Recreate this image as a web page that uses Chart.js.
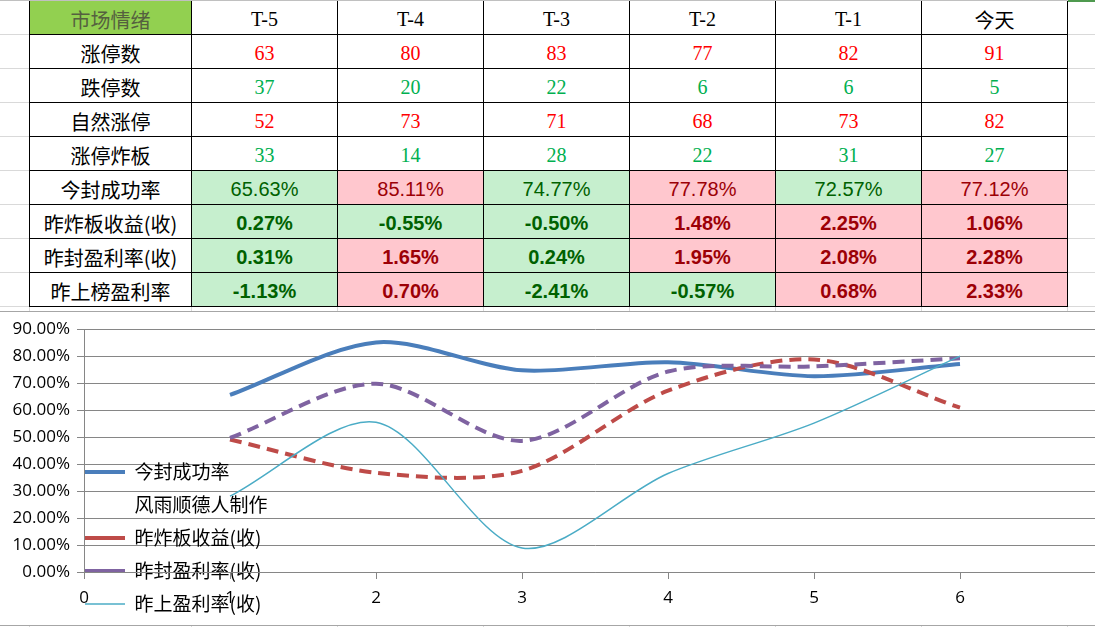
<!DOCTYPE html>
<html><head><meta charset="utf-8">
<script src="https://cdn.jsdelivr.net/npm/chart.js@4.4.0/dist/chart.umd.min.js"></script>
<style>
html,body{margin:0;padding:0;background:#fff;}
body{width:1095px;height:627px;overflow:hidden;position:relative;}
.hl{position:absolute;left:0;width:1095px;height:1px;background:#d9d9d9;}
.vl{position:absolute;top:0;height:627px;width:1px;background:#d9d9d9;}
#tbl{position:absolute;left:29px;top:1px;display:grid;grid-template-columns:161px repeat(6,145px);grid-template-rows:33px repeat(8,33px);gap:1px;padding:0 1px 1px 1px;background:#000;}
.cell{background:#fff;display:flex;align-items:center;justify-content:center;padding-top:3px;box-sizing:border-box;white-space:nowrap;font-size:20px;}
.cjk{font-family:"Noto Sans CJK SC",sans-serif;color:#000;}
.ser{font-family:"Liberation Serif",serif;color:#000;}
.pct{font-family:"Liberation Sans",Arial,sans-serif;}
.bold{font-weight:bold;}
.g{background:#C6EFCE;color:#006100;}
.r{background:#FFC7CE;color:#9C0006;}
#chartBox{position:absolute;left:0;top:311px;width:1095px;height:313px;border-top:1px solid #a6a6a6;border-bottom:1px solid #a6a6a6;overflow:hidden;background:#fff;}
#c{position:absolute;left:0;top:0;}
</style>
</head><body>
<div id="grid"></div>
<div id="tbl"></div>
<div style="position:absolute;left:0;top:0;width:1067px;height:1px;background:#c0c0c0"></div>
<div style="position:absolute;left:1068px;top:0;width:27px;height:2px;background:#4f9a4f"></div>
<div id="chartBox"><canvas id="c" width="1120" height="313"></canvas></div>
<script>
// ---------- table data ----------
const headerTitle = '市场情绪';
const dayLabels = ['T-5','T-4','T-3','T-2','T-1','今天'];
const rowLabels = ['涨停数','跌停数','自然涨停','涨停炸板','今封成功率','昨炸板收益(收)','昨封盈利率(收)','昨上榜盈利率'];
const limitUp = [63,80,83,77,82,91];
const limitDown = [37,20,22,6,6,5];
const naturalLimitUp = [52,73,71,68,73,82];
const brokenLimit = [33,14,28,22,31,27];
const sealSuccessRate = [65.63,85.11,74.77,77.78,72.57,77.12];
const brokenReturn = [0.27,-0.55,-0.50,1.48,2.25,1.06];
const sealProfit = [0.31,1.65,0.24,1.95,2.08,2.28];
const listProfit = [-1.13,0.70,-2.41,-0.57,0.68,2.33];
const sealSuccessTone = ['g','r','g','r','g','r'];
const brokenReturnTone = ['g','g','g','r','r','r'];
const sealProfitTone = ['g','r','g','r','r','r'];
const listProfitTone = ['g','r','g','g','r','r'];

// ---------- chart data ----------
const xValues = [1,2,3,4,5,6];
const seriesNames = ['今封成功率','风雨顺德人制作','昨炸板收益(收)','昨封盈利率(收)','昨上盈利率(收)'];
const seriesSealSuccess = [65.63,85.11,74.77,77.78,72.57,77.12];
const seriesBlank = [];
const seriesBrokenReturn = [49.1,36.8,37.5,67.2,78.8,60.9];
const seriesSealProfit = [49.7,69.8,48.6,74.3,76.2,79.2];
const seriesListProfit = [28.1,55.5,8.9,36.5,55.2,80.0];
const yMin = 0, yMax = 90, yStep = 10;
const xMin = 0, xMax = 7, xStep = 1;

// ---------- sheet gridlines ----------
const grid = document.getElementById('grid');
[29,191,337,483,629,775,921,1067].forEach(x=>{const d=document.createElement('div');d.className='vl';d.style.left=x+'px';grid.appendChild(d);});
for(let y=34;y<=306;y+=34){const d=document.createElement('div');d.className='hl';d.style.top=y+'px';grid.appendChild(d);}

// ---------- table ----------
const tbl = document.getElementById('tbl');
function cell(text, cls, style){const d=document.createElement('div');d.className='cell '+cls;d.textContent=text;if(style)Object.assign(d.style,style);tbl.appendChild(d);}
cell(headerTitle,'cjk',{background:'#92D050',color:'#55603f'});
dayLabels.forEach(t=>cell(t, /[\u4e00-\u9fff]/.test(t)?'cjk':'ser'));
const countRows=[[limitUp,'#FF0000'],[limitDown,'#00B050'],[naturalLimitUp,'#FF0000'],[brokenLimit,'#00B050']];
countRows.forEach(([vals,col],i)=>{cell(rowLabels[i],'cjk');vals.forEach(v=>cell(String(v),'ser',{color:col}));});
const pctRows=[[sealSuccessRate,sealSuccessTone,false],[brokenReturn,brokenReturnTone,true],[sealProfit,sealProfitTone,true],[listProfit,listProfitTone,true]];
pctRows.forEach(([vals,tones,b],i)=>{cell(rowLabels[4+i],'cjk');vals.forEach((v,j)=>cell(v.toFixed(2)+'%','pct '+tones[j]+(b?' bold':'')));});

// ---------- chart ----------
const toPts = arr => arr.map((v,i)=>({x:xValues[i], y:v}));
const legendMover = {
  id:'legendMover',
  beforeDraw(chart){
    const lg = chart.legend; if(!lg) return;
    const pad = lg.options.labels.padding;
    lg.left = 85 - pad; lg.top = 150.5 - pad;
    lg.right = lg.left + 500; lg.bottom = chart.height + 60;
    lg.width = lg.right - lg.left; lg.height = lg.bottom - lg.top;
  }
};
const tickFont = {family:'"Open Sans", sans-serif', size:17};
new Chart(document.getElementById('c'), {
  type:'line',
  data:{datasets:[
    {label:seriesNames[0], data:toPts(seriesSealSuccess), borderColor:'#4A7EBB', backgroundColor:'#4A7EBB', borderWidth:4, order:4},
    {label:seriesNames[1], data:seriesBlank, borderColor:'rgba(0,0,0,0)', backgroundColor:'rgba(0,0,0,0)', borderWidth:0, order:3},
    {label:seriesNames[2], data:toPts(seriesBrokenReturn), borderColor:'#BE4B48', backgroundColor:'#BE4B48', borderWidth:4, borderDash:[12,7], order:2},
    {label:seriesNames[3], data:toPts(seriesSealProfit), borderColor:'#7F63A1', backgroundColor:'#7F63A1', borderWidth:4, borderDash:[12,7], order:1},
    {label:seriesNames[4], data:toPts(seriesListProfit), borderColor:'#4BACC6', backgroundColor:'#4BACC6', borderWidth:1.5, order:0}
  ]},
  options:{
    responsive:false, animation:false,
    layout:{padding:{top:16,left:0,right:14,bottom:0}},
    elements:{point:{radius:0,hoverRadius:0},line:{tension:0.3,borderCapStyle:'butt',fill:false}},
    scales:{
      x:{type:'linear', min:xMin, max:xMax,
        ticks:{stepSize:xStep, color:'#000', font:tickFont, padding:9, autoSkip:false},
        grid:{drawOnChartArea:false, drawTicks:true, tickLength:7, color:'#868686'},
        border:{color:'#868686'},
        afterFit:s=>{s.height=53;}},
      y:{min:yMin, max:yMax,
        ticks:{stepSize:yStep, color:'#000', font:tickFont, padding:7, callback:v=>Number(v).toFixed(2)+'%'},
        grid:{color:'#868686', tickLength:7, drawTicks:true},
        border:{color:'#868686'},
        afterFit:s=>{s.width=84;}}
    },
    plugins:{
      tooltip:{enabled:false},
      legend:{position:'chartArea', align:'start',
        labels:{usePointStyle:true, pointStyle:'line', pointStyleWidth:40, padding:14, color:'#000',
          font:{family:'"Noto Sans CJK SC", sans-serif', size:19},
          sort:(a,b)=>a.datasetIndex-b.datasetIndex}}
    }
  },
  plugins:[legendMover]
});
</script>
</body></html>
